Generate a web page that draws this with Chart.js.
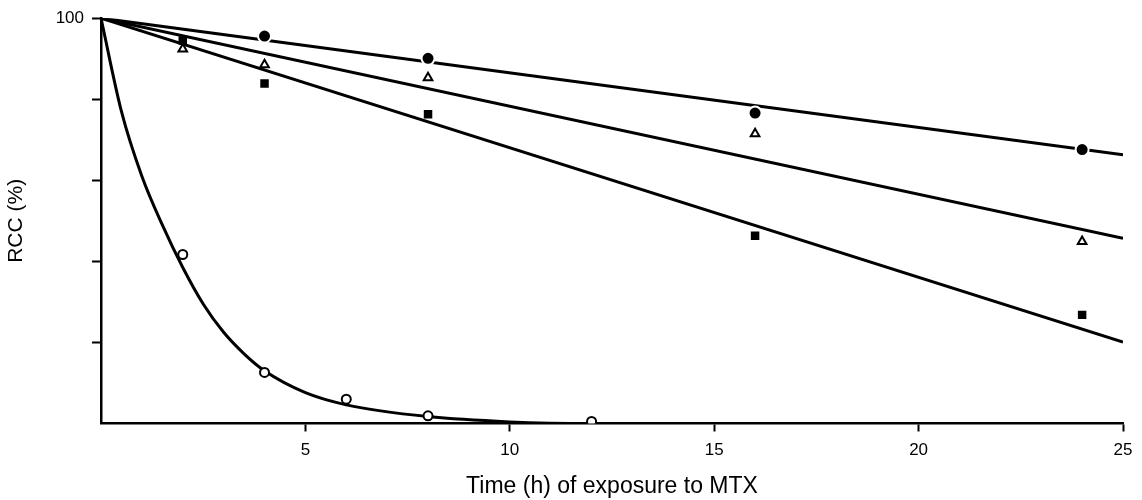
<!DOCTYPE html>
<html>
<head>
<meta charset="utf-8">
<script src="https://cdn.jsdelivr.net/npm/chart.js@4/dist/chart.umd.min.js"></script>
<style>
    body { margin: 0; background: #fff; }
    #wrap { width: 1142px; height: 500px; }
</style>
</head>
<body>
<div id="wrap"><canvas id="rccChart"></canvas></div>
<script>
// measured RCC values (%) against hours of MTX exposure
const timeClosedCircle = [4, 8, 16, 24];
const rccClosedCircle = [95.6, 90.1, 76.6, 67.6];

const timeTriangleSquare = [2, 4, 8, 16, 24];
const rccTriangle = [92.4, 88.5, 85.3, 71.5, 44.9];
const rccSquare = [94.5, 83.9, 76.3, 46.3, 26.8];

const timeOpenCircle = [2, 4, 6, 8, 12];
const rccOpenCircle = [41.7, 12.6, 6.0, 1.9, 0.5];

// fitted straight lines: start and end values over 0..25 h
const fitTime = [0, 25];
const fitClosedCircle = [100, 66.3];
const fitTriangle = [100, 45.7];
const fitSquare = [100, 20.1];

// hand-drawn decay curve through the open circles
const curveTime = [0, 0.5, 1, 1.5, 2, 2.5, 3, 3.5, 4, 5, 6, 8, 10, 12, 25];
const curveRcc = [100, 77, 61, 49, 38.5, 29.5, 22.5, 17.2, 13, 7.6, 4.6, 1.7, 0.4, 0, 0];

const xTicks = [5, 10, 15, 20, 25];
const yLabelled = [100];

const FONT = 'Liberation Sans';

function toPoints(xs, ys) {
    return xs.map((x, i) => ({ x: x, y: ys[i] }));
}

function lineDataset(xs, ys, extra) {
    return Object.assign({
        type: 'line',
        data: toPoints(xs, ys),
        borderColor: '#000',
        borderWidth: 3,
        pointRadius: 0,
        fill: false,
        order: 2
    }, extra || {});
}

function markerDataset(xs, ys, style) {
    return Object.assign({
        type: 'scatter',
        data: toPoints(xs, ys),
        showLine: false,
        pointBorderColor: '#000',
        pointBackgroundColor: '#000',
        order: 0
    }, style);
}

const ctx = document.getElementById('rccChart').getContext('2d');
new Chart(ctx, {
    data: {
        datasets: [
            lineDataset(fitTime, fitClosedCircle),
            lineDataset(fitTime, fitTriangle),
            lineDataset(fitTime, fitSquare),
            lineDataset(curveTime, curveRcc, { cubicInterpolationMode: 'monotone' }),
            markerDataset(timeClosedCircle, rccClosedCircle, {
                pointStyle: 'circle', pointRadius: 6.5,
                pointBorderColor: '#fff', pointBorderWidth: 2
            }),
            markerDataset(timeTriangleSquare, rccTriangle, {
                pointStyle: 'triangle', pointRadius: 5,
                pointBackgroundColor: '#fff', pointBorderWidth: 2
            }),
            markerDataset(timeTriangleSquare, rccSquare, {
                pointStyle: 'rect', pointRadius: 6, pointBorderWidth: 0
            }),
            markerDataset(timeOpenCircle, rccOpenCircle, {
                pointStyle: 'circle', pointRadius: 4.5,
                pointBackgroundColor: '#fff', pointBorderWidth: 2
            })
        ]
    },
    options: {
        responsive: true,
        maintainAspectRatio: false,
        animation: false,
        layout: { padding: { left: 0, right: 19, top: 14, bottom: 0 } },
        plugins: {
            legend: { display: false },
            tooltip: { enabled: false }
        },
        scales: {
            x: {
                type: 'linear',
                min: 0,
                max: 25,
                afterFit: scale => { scale.height = 76.5; },
                afterBuildTicks: scale => {
                    scale.ticks = [0].concat(xTicks).map(v => ({ value: v }));
                },
                border: { color: '#000', width: 2.5 },
                grid: {
                    drawOnChartArea: false,
                    tickLength: 8,
                    tickWidth: 2,
                    tickColor: c => (c.tick && c.tick.value === 0 ? 'rgba(0,0,0,0)' : '#000')
                },
                ticks: {
                    padding: 9,
                    color: '#000',
                    font: { family: FONT, size: 17 },
                    callback: v => (v === 0 ? '' : String(v))
                },
                title: {
                    display: true,
                    text: 'Time (h) of exposure to MTX',
                    color: '#000',
                    font: { family: FONT, size: 23 },
                    padding: { top: 0, bottom: 0 }
                }
            },
            y: {
                type: 'linear',
                min: 0,
                max: 100,
                afterFit: scale => { scale.width = 101; },
                border: { color: '#000', width: 2.5 },
                grid: {
                    drawOnChartArea: false,
                    tickLength: 9,
                    tickWidth: 2,
                    tickColor: c => (c.tick && c.tick.value === 0 ? 'rgba(0,0,0,0)' : '#000')
                },
                ticks: {
                    stepSize: 20,
                    padding: 8,
                    color: '#000',
                    font: { family: FONT, size: 17 },
                    callback: v => (yLabelled.includes(v) ? String(v) : '')
                },
                title: {
                    display: true,
                    text: 'RCC (%)',
                    color: '#000',
                    font: { family: FONT, size: 21 },
                    padding: { top: 4, bottom: 0 }
                }
            }
        }
    }
});
</script>
</body>
</html>
